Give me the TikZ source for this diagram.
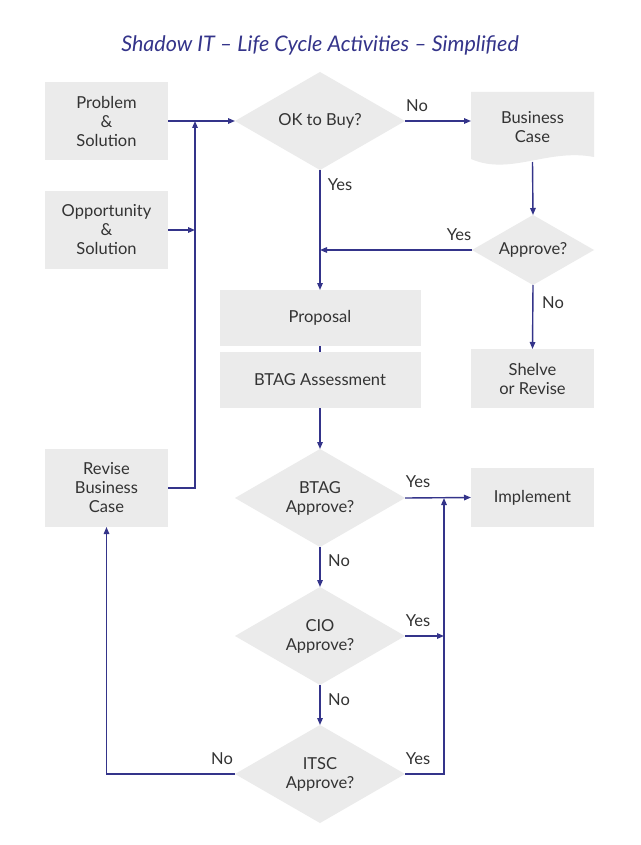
\documentclass[tikz,border=0pt]{standalone}
\usepackage{fontspec}
\setmainfont{Lato}
\usetikzlibrary{shapes.geometric,arrows.meta}
\definecolor{flowblue}{HTML}{34348A}
\definecolor{boxgray}{HTML}{EBEBEB}
\definecolor{txtgray}{HTML}{333333}

\begin{document}
\begin{tikzpicture}[x=1pt, y=-1pt,
  every node/.style={outer sep=0pt, text=txtgray, font=\fontsize{16.5}{19}\selectfont},
  box/.style={fill=boxgray, minimum width=123pt, minimum height=78pt, inner sep=0pt, align=center},
  widebox/.style={fill=boxgray, minimum width=201pt, minimum height=56pt, inner sep=0pt, align=center},
  decision/.style={diamond, aspect=1.7, fill=boxgray, minimum width=170pt, minimum height=98pt, inner sep=0pt, align=center},
  lbl/.style={inner sep=0pt},
  flow/.style={draw=flowblue, line width=1.4pt, -{Triangle[length=7pt,width=5.5pt]}}]
\useasboundingbox[fill=white] (0,0) rectangle (640,845);

\node[lbl, text=flowblue, font=\fontsize{21.5}{24}\itshape] (title) at (320,45) {Shadow IT -- Life Cycle Activities -- Simplified};

% left column
\node[box] (prob) at (106.5,121) {Problem\\\&\\Solution};
\node[box] (opp) at (106.5,230) {Opportunity\\\&\\Solution};
\node[box] (rev) at (106.5,488) {Revise\\Business\\Case};

% middle column
\node[decision] (ok) at (320,121) {OK to Buy?};
\node[widebox] (prop) at (320,318) {Proposal};
\node[widebox] (assess) at (320,380) {BTAG Assessment};
\node[decision] (btag) at (320,498) {BTAG\\Approve?};
\node[decision] (cio) at (320,636) {CIO\\Approve?};
\node[decision] (itsc) at (320,774) {ITSC\\Approve?};

% right column
\fill[boxgray] (471,92) -- (594,92) -- (594,157) .. controls (548,148) and (510,176) .. (471,159) -- cycle;
\node[minimum width=123pt, minimum height=70pt, inner sep=0pt, align=center] (bcase) at (532.5,127) {Business\\Case};
\node[decision, aspect=2, minimum width=122pt, minimum height=70pt] (appr) at (533,250) {Approve?};
\node[box, minimum height=59pt] (shelve) at (532.5,378.5) {Shelve\\or Revise};
\node[box, minimum height=59pt] (impl) at (532.5,497.5) {Implement};

\coordinate (j1) at (195,121);
\coordinate (j2) at (444,498);

% connectors
\draw[flow] (prob.east) -- (ok.west);
\draw[flow] (opp.east) -- (opp.east -| j1);
\draw[flow] (rev.east) -| (j1);
\draw[flow] (ok.east) -- (bcase.west |- ok.east);
\draw[flow] (ok.south) -- (prop.north);
\draw[flow] (bcase.south) -- (appr.north);
\draw[flow] (appr.west) -- (appr.west -| ok.south);
\draw[flow] (appr.south) -- (shelve.north);
\draw[draw=flowblue, line width=1.4pt] (prop.south) -- (assess.north);
\draw[flow] (assess.south) -- (btag.north);
\draw[flow] (btag.east) -- (impl.west);
\draw[flow] (btag.south) -- (cio.north);
\draw[flow] (cio.east) -- (cio.east -| j2);
\draw[flow] (cio.south) -- (itsc.north);
\draw[flow] (itsc.east) -| (j2);
\draw[flow] (itsc.west) -| (rev.south);

% labels
\node[lbl] (okno) at (417,106) {No};
\node[lbl] (okyes) at (340,185) {Yes};
\node[lbl] (apyes) at (459,235) {Yes};
\node[lbl] (apno) at (553,303) {No};
\node[lbl] (btyes) at (418,482) {Yes};
\node[lbl] (btno) at (339,561) {No};
\node[lbl] (ciyes) at (418,621) {Yes};
\node[lbl] (cino) at (339,700) {No};
\node[lbl] (ityes) at (418,759) {Yes};
\node[lbl] (itno) at (222,759) {No};
\end{tikzpicture}
\end{document}
